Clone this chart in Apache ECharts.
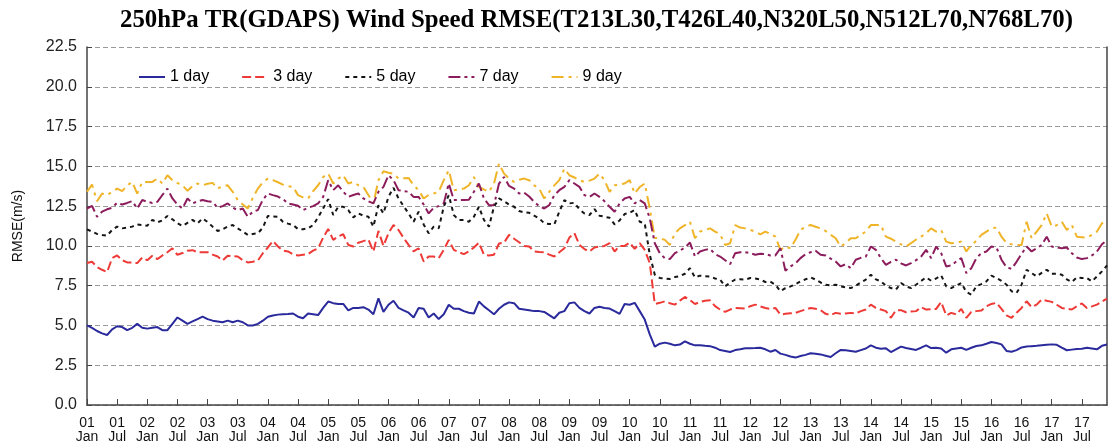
<!DOCTYPE html>
<html><head><meta charset="utf-8">
<script src="https://cdn.jsdelivr.net/npm/echarts@6/dist/echarts.min.js"></script>
<style>html,body{margin:0;padding:0;background:#fff}#c{width:1109px;height:444px}</style>
</head><body><div id="c"></div>
<script>
const chartTitle = '250hPa TR(GDAPS) Wind Speed RMSE(T213L30,T426L40,N320L50,N512L70,N768L70)';
const years = ['01','02','03','04','05','06','07','08','09','10','11','12','13','14','15','16','17'];
const monthNames = ['Jan','Feb','Mar','Apr','May','Jun','Jul','Aug','Sep','Oct','Nov','Dec'];
const seriesNames = ['1 day','3 day','5 day','7 day','9 day'];
const yTicks = [0, 2.5, 5, 7.5, 10, 12.5, 15, 17.5, 20, 22.5];

const day1 = [
5.0,4.85,4.65,4.5,4.4,4.75,4.95,4.9,4.7,4.85,5.1,4.85,
4.8,4.85,4.9,4.7,4.7,5.1,5.5,5.3,5.1,5.25,5.4,5.55,
5.4,5.3,5.25,5.2,5.3,5.2,5.3,5.2,5.0,5.0,5.1,5.3,
5.55,5.62,5.68,5.7,5.72,5.75,5.55,5.45,5.75,5.7,5.65,6.1,
6.5,6.4,6.35,6.35,5.95,6.1,6.1,6.15,6.0,5.7,6.7,5.85,
6.3,6.55,6.1,5.95,5.8,5.5,6.1,6.05,5.5,5.75,5.4,5.7,
6.3,6.05,6.05,5.9,5.8,5.75,6.5,6.2,5.95,5.7,6.05,6.3,
6.45,6.4,6.05,6.0,5.95,5.9,5.9,5.85,5.65,5.45,5.8,5.9,
6.4,6.45,6.1,5.9,5.75,6.1,6.17,6.1,6.06,5.9,5.73,6.35,
6.3,6.42,5.9,5.37,4.44,3.67,3.85,3.92,3.85,3.75,3.8,4.0,
3.85,3.75,3.75,3.72,3.7,3.6,3.45,3.4,3.33,3.45,3.5,3.56,
3.57,3.58,3.6,3.5,3.35,3.46,3.23,3.15,3.05,2.98,3.08,3.15,
3.25,3.22,3.18,3.1,3.02,3.25,3.46,3.44,3.4,3.35,3.45,3.55,
3.75,3.6,3.54,3.56,3.33,3.5,3.67,3.58,3.52,3.46,3.6,3.75,
3.58,3.6,3.55,3.29,3.5,3.55,3.6,3.46,3.6,3.71,3.75,3.85,
3.96,3.9,3.81,3.4,3.35,3.45,3.62,3.67,3.7,3.72,3.75,3.78,
3.81,3.78,3.6,3.44,3.48,3.52,3.54,3.6,3.55,3.5,3.72,3.8
];
const day3 = [
8.92,9.0,8.67,8.5,8.35,9.23,9.4,9.1,8.96,8.95,8.92,9.27,
9.1,9.38,9.17,9.4,9.6,9.85,9.44,9.55,9.7,9.73,9.6,9.6,
9.6,9.45,9.33,9.08,9.38,9.35,9.33,9.1,8.96,9.0,9.08,9.54,
9.9,10.31,9.96,9.7,9.65,9.48,9.4,9.45,9.48,9.7,9.85,10.52,
11.06,10.38,10.6,10.73,10.06,9.96,10.2,10.3,10.4,9.65,10.94,10.0,
10.8,11.31,11.0,10.5,10.06,9.65,9.85,9.02,9.33,9.33,9.23,9.75,
10.38,9.75,9.6,9.48,9.65,9.9,10.2,9.44,9.4,9.45,10.15,10.2,
10.69,10.45,10.23,10.0,9.96,9.65,9.62,9.6,9.45,9.33,9.6,9.85,
10.52,10.8,10.06,9.8,9.65,9.9,9.96,10.0,10.17,9.65,10.0,10.0,
10.21,9.81,10.17,9.75,8.92,6.35,6.42,6.52,6.4,6.31,6.56,6.79,
6.6,6.35,6.48,6.55,6.58,6.21,6.0,5.85,6.0,6.1,6.08,6.06,
6.21,6.31,6.2,6.1,6.04,6.1,5.69,5.73,5.76,5.79,5.9,6.0,
6.1,6.05,5.96,5.73,5.65,5.79,5.73,5.75,5.79,5.75,5.9,6.0,
6.31,6.1,6.0,5.9,5.48,5.96,5.96,5.83,5.88,5.9,6.15,6.0,
6.02,6.04,6.48,5.63,5.79,5.69,6.04,5.48,5.85,5.9,5.94,6.2,
6.35,6.42,6.04,5.63,5.48,5.8,6.1,6.52,6.15,6.31,6.63,6.55,
6.48,6.3,6.1,6.05,6.0,6.21,6.38,6.1,6.2,6.31,6.5,6.69
];
const day5 = [
11.04,10.9,10.75,10.69,10.65,11.0,11.21,11.1,11.15,11.21,11.35,11.3,
11.27,11.63,11.48,11.6,11.88,11.67,11.42,11.25,11.45,11.63,11.42,11.73,
11.5,11.21,10.94,11.05,11.21,11.31,11.1,10.9,10.69,10.75,10.79,11.15,
11.88,11.85,11.83,11.52,11.4,11.31,11.06,11.05,11.1,11.31,11.79,12.35,
12.94,11.94,12.46,12.46,12.25,11.79,12.04,11.9,11.83,11.21,12.56,12.04,
13.08,13.65,12.98,12.5,12.04,11.52,12.15,11.35,10.79,11.21,11.1,12.46,
13.19,11.94,11.63,11.63,11.52,11.83,12.46,11.63,11.21,12.46,12.98,12.81,
12.6,12.46,12.19,12.1,12.08,11.9,11.73,11.42,11.38,11.35,12.15,12.88,
12.67,12.71,12.3,12.04,11.94,12.31,11.9,11.83,11.77,11.35,11.6,12.0,
12.08,12.25,11.52,11.42,9.44,8.19,7.98,7.95,7.92,8.04,8.1,8.25,
8.6,8.02,8.13,8.1,8.08,7.95,7.88,7.46,7.7,7.88,7.9,7.88,
7.98,7.95,7.88,7.73,7.75,7.56,7.15,7.35,7.45,7.6,7.77,7.9,
8.02,7.88,7.7,7.56,7.52,7.56,7.45,7.4,7.35,7.5,7.7,7.88,
8.19,7.9,7.77,7.5,7.35,7.25,7.67,7.45,7.35,7.56,7.8,8.02,
7.81,7.95,8.15,7.46,7.35,7.5,7.67,7.1,6.94,7.46,7.6,7.77,
8.13,7.98,7.8,7.56,7.15,7.04,7.56,8.5,8.29,8.08,8.3,8.5,
8.25,8.25,8.19,7.9,7.73,8.02,7.98,7.98,7.77,8.08,8.4,8.77
];
const day7 = [
12.35,12.52,11.83,12.15,12.3,12.4,12.71,12.6,12.7,12.81,12.35,12.88,
12.77,12.7,12.77,13.2,13.6,12.98,12.6,12.35,12.98,12.67,12.8,12.88,
12.8,12.77,12.4,12.5,12.67,12.4,12.25,12.35,11.83,12.15,12.25,12.9,
13.29,13.19,13.1,12.94,12.67,12.6,12.52,12.25,12.4,12.5,12.67,13.08,
14.13,13.5,13.81,13.4,13.08,13.2,13.29,12.98,12.8,12.67,13.4,13.71,
14.44,14.13,13.5,13.45,13.4,13.08,13.08,12.6,12.04,12.4,12.5,12.67,
13.92,12.88,12.88,12.88,12.9,13.4,13.92,12.98,12.56,12.56,13.92,14.33,
13.77,13.6,13.29,13.35,13.1,12.77,12.5,12.35,12.56,13.19,13.5,13.71,
14.13,13.92,13.71,13.19,13.08,13.29,13.08,12.8,12.46,12.15,12.67,12.98,
13.08,12.67,12.88,12.67,11.73,10.17,9.54,9.23,9.17,9.54,9.7,9.9,
10.21,9.33,9.65,9.75,9.81,9.48,9.33,9.1,8.85,9.54,9.6,9.6,
9.54,9.44,9.5,9.48,9.4,9.4,9.85,8.44,8.71,8.9,9.23,9.48,
9.6,9.69,9.44,9.4,9.2,9.02,8.71,8.85,8.6,9.13,9.25,9.33,
9.96,9.75,9.23,8.81,9.0,9.13,8.9,8.77,8.92,9.1,9.33,9.75,
9.23,9.96,9.54,8.71,8.77,9.02,9.23,8.29,8.6,9.23,9.54,9.65,
9.96,9.9,9.13,8.65,8.56,9.0,9.5,9.96,9.65,9.85,10.06,10.58,
9.96,9.9,9.85,9.9,9.54,9.27,9.17,9.23,9.4,9.65,10.1,10.38
];
const day9 = [
13.4,13.85,12.81,13.29,13.19,13.4,13.6,13.44,13.8,14.02,13.29,14.02,
14.02,14.02,14.23,13.92,14.44,14.13,13.95,13.81,13.46,13.75,13.92,13.81,
13.9,13.96,13.6,13.75,13.81,13.4,12.88,12.6,12.35,13.02,13.6,14.0,
14.23,14.13,14.0,13.85,13.75,13.71,13.19,13.05,12.98,13.44,13.81,14.33,
14.54,13.92,14.23,14.44,13.92,14.02,13.81,13.71,13.2,12.67,14.13,14.69,
14.6,14.54,14.23,14.25,14.27,13.81,13.5,12.98,13.2,13.29,13.4,14.13,
14.75,13.5,13.55,13.6,13.81,14.33,13.71,13.55,13.4,13.92,15.17,14.54,
14.23,14.02,14.15,14.23,14.13,13.8,13.6,12.98,13.4,13.8,14.13,14.85,
14.44,14.3,14.13,14.02,14.1,14.23,14.54,14.13,13.4,13.81,13.85,13.92,
14.13,13.29,13.7,13.92,12.35,10.5,10.48,10.38,10.06,10.79,11.1,11.3,
11.52,10.48,10.9,11.0,11.1,10.9,10.73,10.06,10.17,11.31,11.15,11.1,
11.0,10.9,10.73,10.9,10.75,10.58,9.75,9.96,9.85,10.38,11.0,11.2,
11.31,11.2,11.1,10.94,10.7,10.48,9.96,10.17,10.48,10.48,10.7,10.9,
11.31,11.31,11.31,10.58,10.45,10.27,10.1,9.96,10.17,10.4,10.58,10.79,
11.1,10.9,11.0,10.27,10.17,10.2,10.27,9.65,10.06,10.31,10.69,10.9,
11.1,11.15,10.58,10.17,10.1,10.06,10.06,11.52,10.48,10.9,11.31,12.04,
11.21,11.3,11.52,11.0,11.31,10.58,10.55,10.52,10.7,10.9,11.42,11.63
];

const categories = [];
years.forEach(y => monthNames.forEach(m => categories.push(y + '\n' + m)));

const colors = ['#2a2a9c', '#ee3a36', '#151515', '#8c1c5c', '#f0b428'];
const dashes = ['solid', [9, 4], [4, 4], [12, 4, 3, 4], [12, 5, 3, 5]];
const values = [day1, day3, day5, day7, day9];

const chart = echarts.init(document.getElementById('c'));
chart.setOption({
  animation: false,
  backgroundColor: '#ffffff',
  title: {
    text: chartTitle, left: 115, top: 3,
    textStyle: { fontFamily: 'Liberation Serif', fontWeight: 'bold', fontSize: 24.8, color: '#000' }
  },
  legend: {
    left: 133, top: 64, itemWidth: 26, itemHeight: 10, itemGap: 32,
    itemStyle: { color: 'rgba(0,0,0,0)', borderWidth: 0, opacity: 0 },
    textStyle: { fontFamily: 'Liberation Sans', fontSize: 16, color: '#000' },
    data: seriesNames
  },
  grid: { left: 87, right: 2, top: 47, bottom: 36 },
  xAxis: {
    type: 'category', data: categories, boundaryGap: false,
    axisLine: { lineStyle: { color: '#444', width: 1.5 } },
    axisTick: { inside: true, length: 6, interval: (i) => i % 6 === 0, lineStyle: { color: '#444' } },
    axisLabel: {
      interval: (i) => i % 6 === 0, fontFamily: 'Liberation Sans', fontSize: 14, color: '#111',
      lineHeight: 14, margin: 11,
      formatter: (v) => v
    },
    splitLine: { show: false }
  },
  yAxis: [{
    type: 'value', min: 0, max: 22.5, interval: 2.5,
    name: 'RMSE(m/s)', nameLocation: 'middle', nameGap: 62, nameRotate: 90,
    nameTextStyle: { fontFamily: 'Liberation Sans', fontSize: 14, color: '#111' },
    axisLine: { show: true, lineStyle: { color: '#444', width: 1.5 } },
    axisTick: { show: true, inside: true, length: 5, lineStyle: { color: '#444' } },
    axisLabel: { fontFamily: 'Liberation Sans', fontSize: 16, color: '#222', margin: 10,
      formatter: (v) => v.toFixed(1) },
    splitLine: { show: true, lineStyle: { color: '#9a9a9a', type: [5, 3], width: 1 } }
  }, {
    type: 'value', min: 0, max: 22.5, interval: 2.5, position: 'right',
    axisLine: { show: true, lineStyle: { color: '#444', width: 1.5 } },
    axisTick: { show: false }, axisLabel: { show: false }, splitLine: { show: false }
  }],
  series: seriesNames.map((name, i) => ({
    name, type: 'line', data: values[i], symbol: 'none',
    lineStyle: { color: colors[i], width: 2, type: dashes[i] },
    itemStyle: { color: colors[i] },
    z: 10 - i
  }))
});
</script>
</body></html>
